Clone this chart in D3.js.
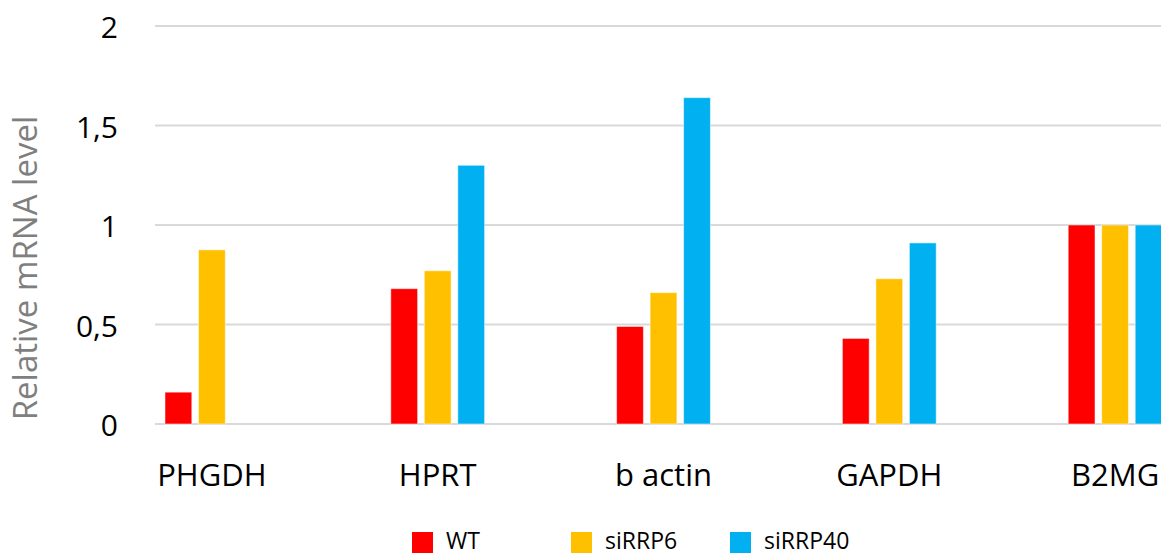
<!DOCTYPE html>
<html><head><meta charset="utf-8">
<script src="https://cdn.jsdelivr.net/npm/d3@7"></script>
<style>body{margin:0;background:#fff}svg{display:block}</style>
</head><body><svg id="c" width="1161" height="555"></svg>
<script>
const categories = ["PHGDH", "HPRT", "b actin", "GAPDH", "B2MG"];
const seriesNames = ["WT", "siRRP6", "siRRP40"];
const wtValues = [0.16, 0.68, 0.49, 0.43, 1.0];
const siRRP6Values = [0.875, 0.77, 0.66, 0.73, 1.0];
const siRRP40Values = [0, 1.30, 1.64, 0.91, 1.0];
const seriesColors = ["#FF0000", "#FFC000", "#00B0F0"];
const yTicks = [0, 0.5, 1, 1.5, 2];
const yTickLabels = ["0", "0,5", "1", "1,5", "2"];

const seriesValues = [wtValues, siRRP6Values, siRRP40Values];
const svg = d3.select("#c");
const font = "'Open Sans', sans-serif";

const y = d3.scaleLinear().domain([0, 2]).range([424, 26]);
const x = d3.scaleBand().domain(categories).range([99, 1228]);
const xi = d3.scaleBand().domain(seriesNames).range([-50.25, 50.25]).paddingInner(0.2).paddingOuter(0.1);

// gridlines
svg.append("g").selectAll("line").data(yTicks).join("line")
  .attr("x1", 155).attr("x2", 1161)
  .attr("y1", d => y(d)).attr("y2", d => y(d))
  .attr("stroke", "#d9d9d9").attr("stroke-width", 2);

// y tick labels
svg.append("g").selectAll("text").data(yTicks).join("text")
  .attr("x", 118).attr("y", d => y(d) + 12)
  .attr("text-anchor", "end")
  .attr("font-family", font).attr("font-size", 30).attr("fill", "#000")
  .text((d, i) => yTickLabels[i]);

// y axis title
svg.append("text")
  .attr("transform", "translate(37,268) rotate(-90)")
  .attr("text-anchor", "middle")
  .attr("font-family", font).attr("font-size", 33).attr("fill", "#7f7f7f")
  .text("Relative mRNA level");

// bars
const groups = svg.append("g").selectAll("g").data(categories).join("g")
  .attr("transform", d => `translate(${x(d) + x.bandwidth() / 2},0)`);
groups.selectAll("rect")
  .data((c, ci) => seriesNames.map((s, si) => ({ s, v: seriesValues[si][ci], si })))
  .join("rect")
  .filter(d => d.v > 0)
  .attr("x", d => xi(d.s))
  .attr("width", xi.bandwidth())
  .attr("y", d => y(d.v))
  .attr("height", d => y(0) - y(d.v))
  .attr("fill", d => seriesColors[d.si])
  .attr("stroke", "rgba(255,255,255,0.5)").attr("stroke-width", 1);

// category labels
svg.append("g").selectAll("text").data(categories).join("text")
  .attr("x", d => x(d) + x.bandwidth() / 2).attr("y", 486)
  .attr("text-anchor", "middle")
  .attr("font-family", font).attr("font-size", 31).attr("fill", "#000")
  .text(d => d);

// legend
const legendX = [412, 571, 730];
const lg = svg.append("g").selectAll("g").data(seriesNames).join("g")
  .attr("transform", (d, i) => `translate(${legendX[i]},532)`);
lg.append("rect").attr("width", 21).attr("height", 21)
  .attr("fill", (d, i) => seriesColors[i]);
lg.append("text").attr("x", 34).attr("y", 17)
  .attr("font-family", font).attr("font-size", 23).attr("fill", "#000")
  .text(d => d);
</script></body></html>
